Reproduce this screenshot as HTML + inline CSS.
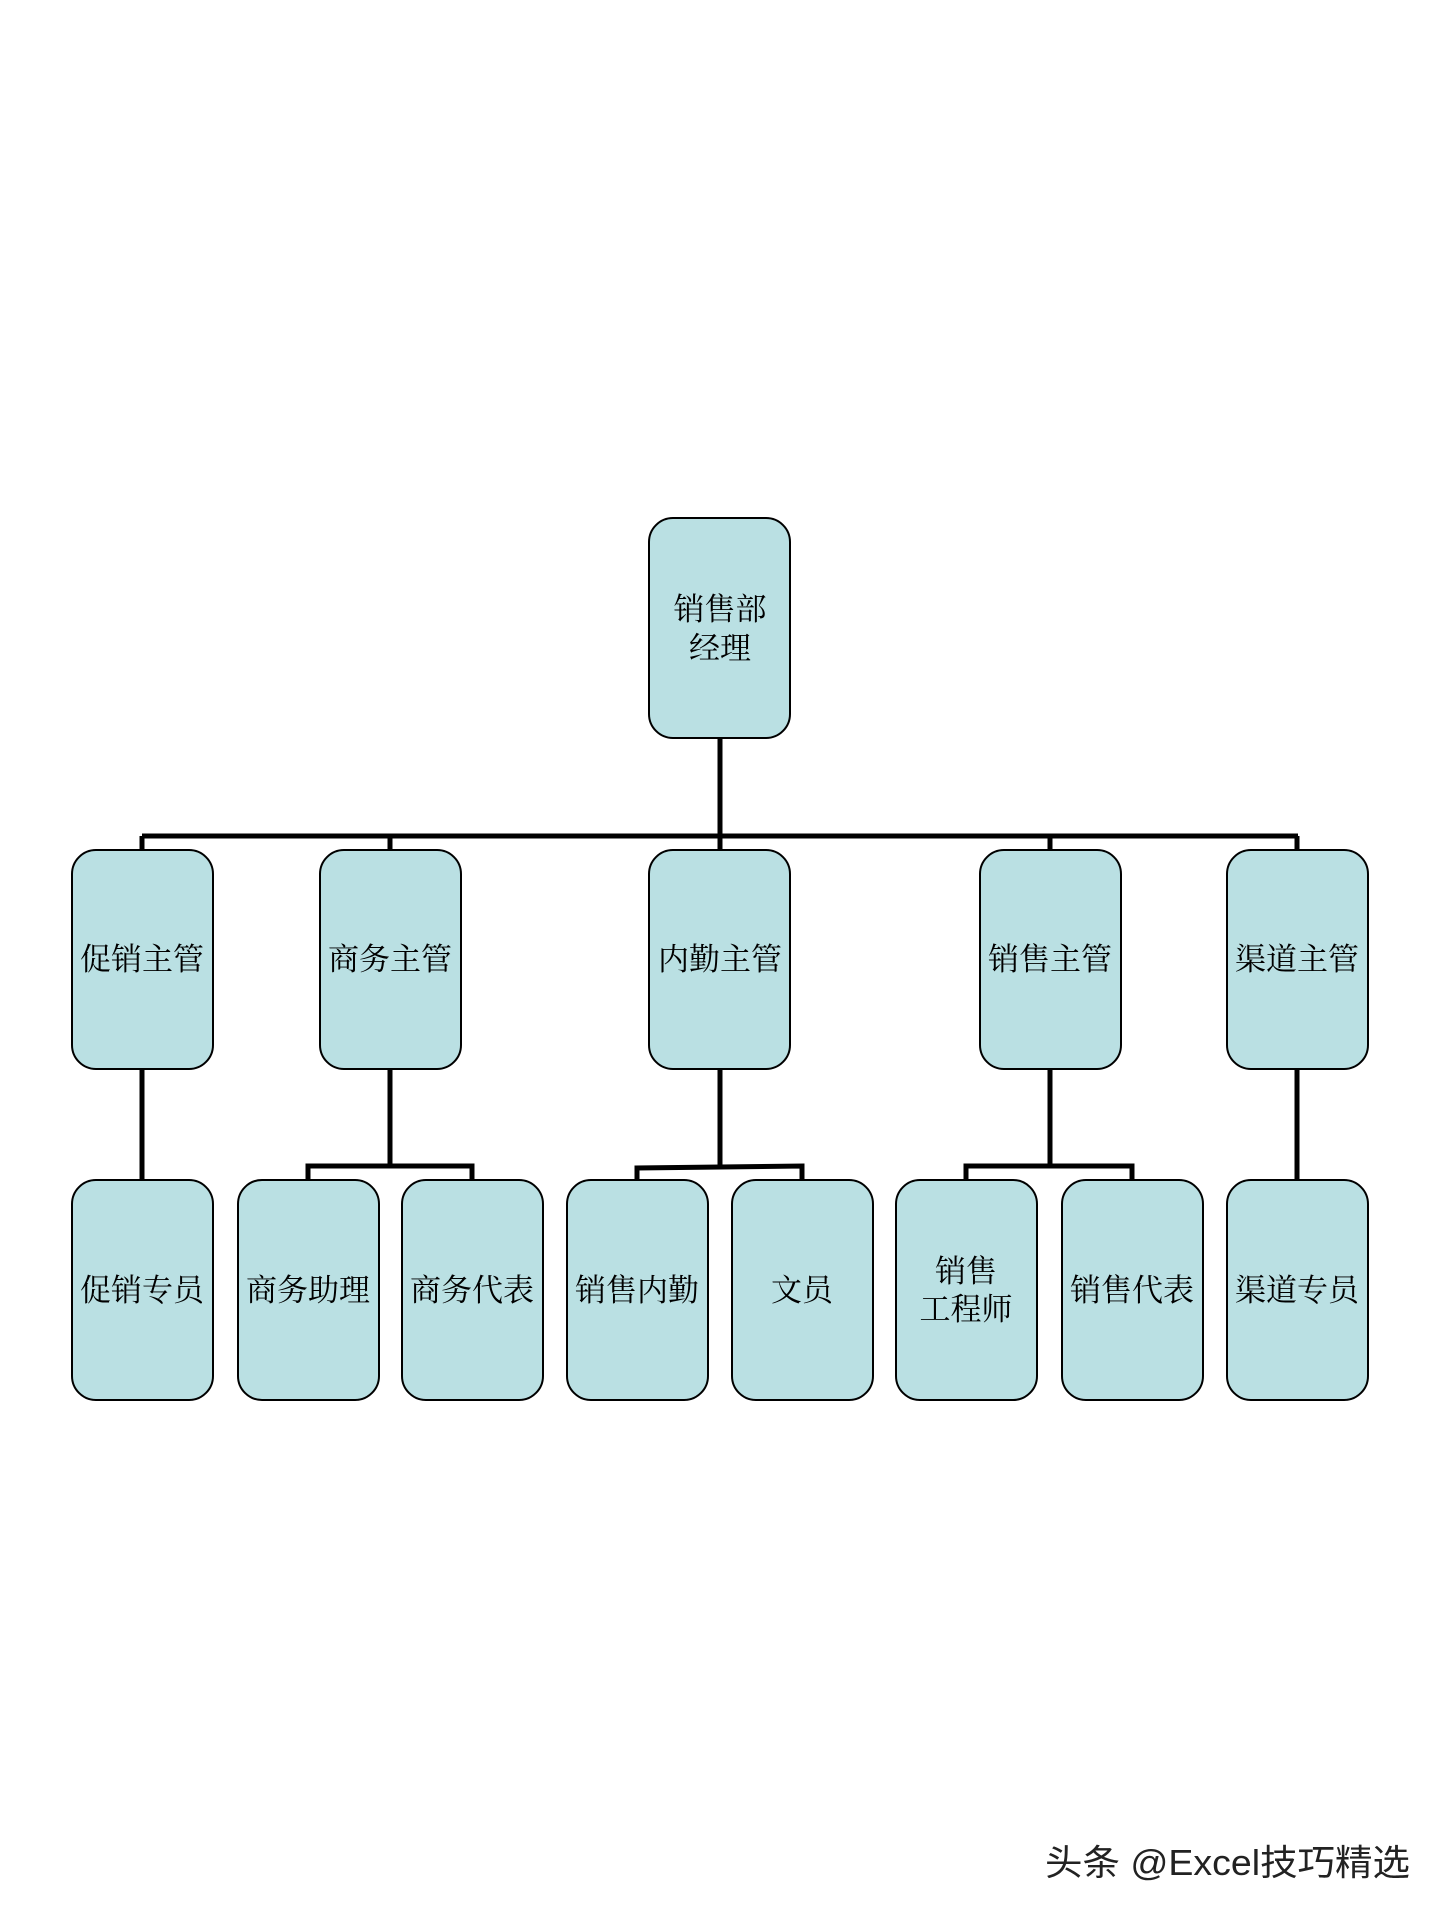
<!DOCTYPE html>
<html><head><meta charset="utf-8"><style>
html,body{margin:0;padding:0;background:#fff;}
svg{display:block;}
.t{font-family:"Liberation Serif","Noto Serif CJK SC",serif;font-size:31px;fill:#000;text-anchor:middle;}
</style></head><body>
<svg width="1440" height="1920" viewBox="0 0 1440 1920" xmlns="http://www.w3.org/2000/svg">
<g stroke="#000" stroke-width="5" fill="none">
<line x1="720" y1="738" x2="720" y2="852"/>
<line x1="142" y1="836" x2="1298" y2="836"/>
<line x1="142" y1="836" x2="142" y2="852"/>
<line x1="390" y1="836" x2="390" y2="852"/>
<line x1="1050" y1="836" x2="1050" y2="852"/>
<line x1="1297" y1="836" x2="1297" y2="852"/>
<line x1="142" y1="1069" x2="142" y2="1182"/>
<line x1="1297" y1="1069" x2="1297" y2="1182"/>
<line x1="390" y1="1069" x2="390" y2="1166"/>
<polyline points="308,1182 308,1166 472,1166 472,1182"/>
<line x1="720" y1="1069" x2="720" y2="1166"/>
<polyline points="637,1182 637,1168 802,1166 802,1182"/>
<line x1="1050" y1="1069" x2="1050" y2="1166"/>
<polyline points="966,1182 966,1166 1132,1166 1132,1182"/>
</g>
<g fill="#bae0e3" stroke="#000" stroke-width="2">
<rect x="649" y="518" width="141" height="220" rx="24"/>
<rect x="72" y="850" width="141" height="219" rx="24"/>
<rect x="320" y="850" width="141" height="219" rx="24"/>
<rect x="649" y="850" width="141" height="219" rx="24"/>
<rect x="980" y="850" width="141" height="219" rx="24"/>
<rect x="1227" y="850" width="141" height="219" rx="24"/>
<rect x="72" y="1180" width="141" height="220" rx="24"/>
<rect x="238" y="1180" width="141" height="220" rx="24"/>
<rect x="402" y="1180" width="141" height="220" rx="24"/>
<rect x="567" y="1180" width="141" height="220" rx="24"/>
<rect x="732" y="1180" width="141" height="220" rx="24"/>
<rect x="896" y="1180" width="141" height="220" rx="24"/>
<rect x="1062" y="1180" width="141" height="220" rx="24"/>
<rect x="1227" y="1180" width="141" height="220" rx="24"/>
</g>
<text class="t" x="720" y="620">销售部</text>
<text class="t" x="720" y="659">经理</text>
<text class="t" x="142" y="970">促销主管</text>
<text class="t" x="390" y="970">商务主管</text>
<text class="t" x="720" y="970">内勤主管</text>
<text class="t" x="1050" y="970">销售主管</text>
<text class="t" x="1297" y="970">渠道主管</text>
<text class="t" x="142" y="1301">促销专员</text>
<text class="t" x="308" y="1301">商务助理</text>
<text class="t" x="472" y="1301">商务代表</text>
<text class="t" x="637" y="1301">销售内勤</text>
<text class="t" x="802" y="1301">文员</text>
<text class="t" x="966" y="1282">销售</text>
<text class="t" x="966" y="1320">工程师</text>
<text class="t" x="1132" y="1301">销售代表</text>
<text class="t" x="1297" y="1301">渠道专员</text>
<text x="1045" y="1875" textLength="365" lengthAdjust="spacingAndGlyphs" style="font-family:'Liberation Sans','Noto Sans CJK SC',sans-serif;font-size:36px;fill:#222;">头条 @Excel技巧精选</text>
</svg>
</body></html>
